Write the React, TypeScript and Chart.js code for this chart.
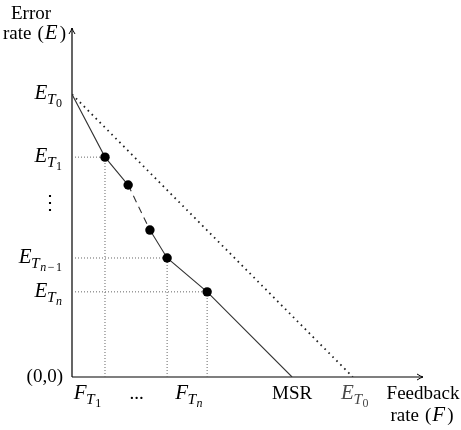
import { useEffect, useRef } from "react";
import { Chart, registerables } from "chart.js";

Chart.register(...registerables);

// Error-rate / feedback-rate frontier (arbitrary units on both axes)
const frontierX = [0, 0.94, 1.6, 2.22, 2.71, 3.85, 6.27];
const frontierY = [8.1, 6.3, 5.5, 4.21, 3.41, 2.44, 0];
const observed = [false, true, true, true, true, true, false];
const elidedSegment = 2; // the stretch between T_2 and T_{n-2} is left out

// Straight bound joining E_T0 on both axes
const boundX = [0, 8.0];
const boundY = [8.1, 0];

// Points that get dotted guides down to the axes
const guided = [1, 4, 5];

// Tick labels: which frontier point each y label belongs to
const yTickPoints = [0, 1, 4, 5];
const yTickSubs: string[][] = [["0"], ["1"], ["n", "−", "1"], ["n"]];
const xTickValues = [0.44, 1.84, 3.33];
const xTickSubs: (string[] | null)[] = [["1"], null, ["n"]];

type Part = { t: string; size: number; it?: boolean; dy?: number; dx?: number };

const SERIF = '"Liberation Serif", "Times New Roman", serif';
const fontOf = (p: Part) => `${p.it ? "italic " : ""}${p.size}px ${SERIF}`;

function drawParts(
  ctx: CanvasRenderingContext2D,
  parts: Part[],
  x: number,
  y: number,
  align: "left" | "right" | "center",
  color = "#000"
) {
  let total = 0;
  const widths = parts.map((p) => {
    ctx.font = fontOf(p);
    const w = ctx.measureText(p.t).width + (p.dx || 0);
    total += w;
    return w;
  });
  let cx = align === "right" ? x - total : align === "center" ? x - total / 2 : x;
  ctx.fillStyle = color;
  ctx.textAlign = "left";
  ctx.textBaseline = "alphabetic";
  parts.forEach((p, i) => {
    ctx.font = fontOf(p);
    ctx.fillText(p.t, cx + (p.dx || 0), y + (p.dy || 0));
    cx += widths[i];
  });
}

// Letter with a T subscript and a second-level subscript (E_{T_0}, F_{T_n}, ...)
function subscripted(letter: string, subs: string[]): Part[] {
  const parts: Part[] = [
    { t: letter, size: 21, it: true },
    { t: "T", size: 15.5, it: true, dy: 5, dx: -0.5 },
  ];
  subs.forEach((s) => {
    parts.push({
      t: s,
      size: 12,
      it: /[a-z]/.test(s),
      dy: 8,
      dx: s === "−" || s === "1" && subs.length > 1 ? 1.5 : 0.5,
    });
  });
  return parts;
}

// "rate (X)" with a math-style variable
function rateOf(v: string): Part[] {
  return [
    { t: "rate", size: 19 },
    { t: "(", size: 19, dx: 6 },
    { t: v, size: 21, it: true, dx: 1 },
    { t: ")", size: 19, dx: 2 },
  ];
}

const axesAndLabels = {
  id: "axesAndLabels",
  beforeDatasetsDraw(chart: Chart) {
    const ctx = chart.ctx;
    const { x, y } = chart.scales;
    const ox = x.getPixelForValue(0);
    const oy = y.getPixelForValue(0);
    const top = chart.chartArea.top;
    const right = chart.chartArea.right;
    ctx.save();
    ctx.strokeStyle = "#000";
    ctx.lineWidth = 1.2;
    ctx.beginPath();
    ctx.moveTo(ox, oy);
    ctx.lineTo(ox, top);
    ctx.moveTo(ox, oy);
    ctx.lineTo(right, oy);
    ctx.stroke();
    // open arrow tips
    ctx.lineWidth = 1;
    ctx.beginPath();
    ctx.moveTo(ox - 3, top + 6);
    ctx.quadraticCurveTo(ox - 0.5, top + 2, ox, top);
    ctx.quadraticCurveTo(ox + 0.5, top + 2, ox + 3, top + 6);
    ctx.moveTo(right - 6, oy - 3);
    ctx.quadraticCurveTo(right - 2, oy - 0.5, right, oy);
    ctx.quadraticCurveTo(right - 2, oy + 0.5, right - 6, oy + 3);
    ctx.stroke();
    ctx.restore();
  },
  afterDraw(chart: Chart) {
    const ctx = chart.ctx;
    const { x, y } = chart.scales;
    const ox = x.getPixelForValue(0);
    const oy = y.getPixelForValue(0);
    const right = chart.chartArea.right;
    const top = chart.chartArea.top;
    ctx.save();

    // y-axis tick labels
    yTickPoints.forEach((idx, i) => {
      const py = y.getPixelForValue(frontierY[idx]);
      drawParts(ctx, subscripted("E", yTickSubs[i]), ox - 10, py + 5, "right");
    });
    ctx.font = `20px "DejaVu Serif", serif`;
    ctx.fillStyle = "#000";
    ctx.textAlign = "center";
    ctx.textBaseline = "middle";
    ctx.fillText("⋮", ox - 22, y.getPixelForValue(4.95));
    drawParts(ctx, [{ t: "(0,0)", size: 19 }], ox - 9, oy + 5, "right");

    // x-axis tick labels
    const base = oy + 22;
    xTickValues.forEach((v, i) => {
      const px = x.getPixelForValue(v);
      const subs = xTickSubs[i];
      if (subs) drawParts(ctx, subscripted("F", subs), px, base, "center");
      else drawParts(ctx, [{ t: "...", size: 19 }], px, base, "center");
    });
    drawParts(ctx, [{ t: "MSR", size: 19 }], x.getPixelForValue(frontierX[6]), base - 0.5, "center");
    drawParts(ctx, subscripted("E", ["0"]), x.getPixelForValue(boundX[1]) + 2, base, "center", "#4a4a4a");

    // axis titles
    drawParts(ctx, [{ t: "Feedback", size: 19 }], right, base - 0.5, "center");
    drawParts(ctx, rateOf("F"), right - 1, base + 21.5, "center");
    drawParts(ctx, [{ t: "Error", size: 19 }], ox - 41, top - 9.5, "center");
    drawParts(ctx, rateOf("E"), ox - 6, top + 11, "right");
    ctx.restore();
  },
};

export default function App() {
  const canvasRef = useRef<HTMLCanvasElement | null>(null);

  useEffect(() => {
    if (!canvasRef.current) return;
    const guideStyle = {
      borderColor: "#666",
      borderWidth: 1,
      borderDash: [1, 2],
      pointRadius: 0,
      showLine: true,
      fill: false,
    };
    const guides = guided.flatMap((i) => [
      {
        ...guideStyle,
        data: [
          { x: 0, y: frontierY[i] },
          { x: frontierX[i], y: frontierY[i] },
        ],
      },
      {
        ...guideStyle,
        data: [
          { x: frontierX[i], y: 0 },
          { x: frontierX[i], y: frontierY[i] },
        ],
      },
    ]);

    const chart = new Chart(canvasRef.current, {
      type: "scatter",
      data: {
        datasets: [
          {
            data: frontierX.map((v, i) => ({ x: v, y: frontierY[i] })),
            showLine: true,
            borderColor: "#333",
            borderWidth: 1.1,
            pointRadius: (c: any) => (observed[c.dataIndex] ? 4.7 : 0),
            pointBackgroundColor: "#000",
            pointBorderWidth: 0,
            segment: {
              borderDash: (c: any) => (c.p0DataIndex === elidedSegment ? [7, 5] : undefined),
            },
          },
          {
            data: boundX.map((v, i) => ({ x: v, y: boundY[i] })),
            showLine: true,
            borderColor: "#222",
            borderWidth: 1.8,
            borderDash: [1.6, 4],
            pointRadius: 0,
          },
          ...guides,
        ] as any,
      },
      options: {
        responsive: false,
        animation: false,
        layout: { padding: { left: 72, right: 38, top: 28, bottom: 53 } },
        scales: {
          x: { type: "linear", min: 0, max: 10, display: false },
          y: { type: "linear", min: 0, max: 10, display: false },
        },
        plugins: {
          legend: { display: false },
          tooltip: { enabled: false },
        },
      },
      plugins: [axesAndLabels],
    });
    return () => chart.destroy();
  }, []);

  return (
    <div style={{ position: "fixed", left: 0, top: 0, width: 461, height: 430, background: "#fff" }}>
      <canvas ref={canvasRef} width={461} height={430} />
    </div>
  );
}
